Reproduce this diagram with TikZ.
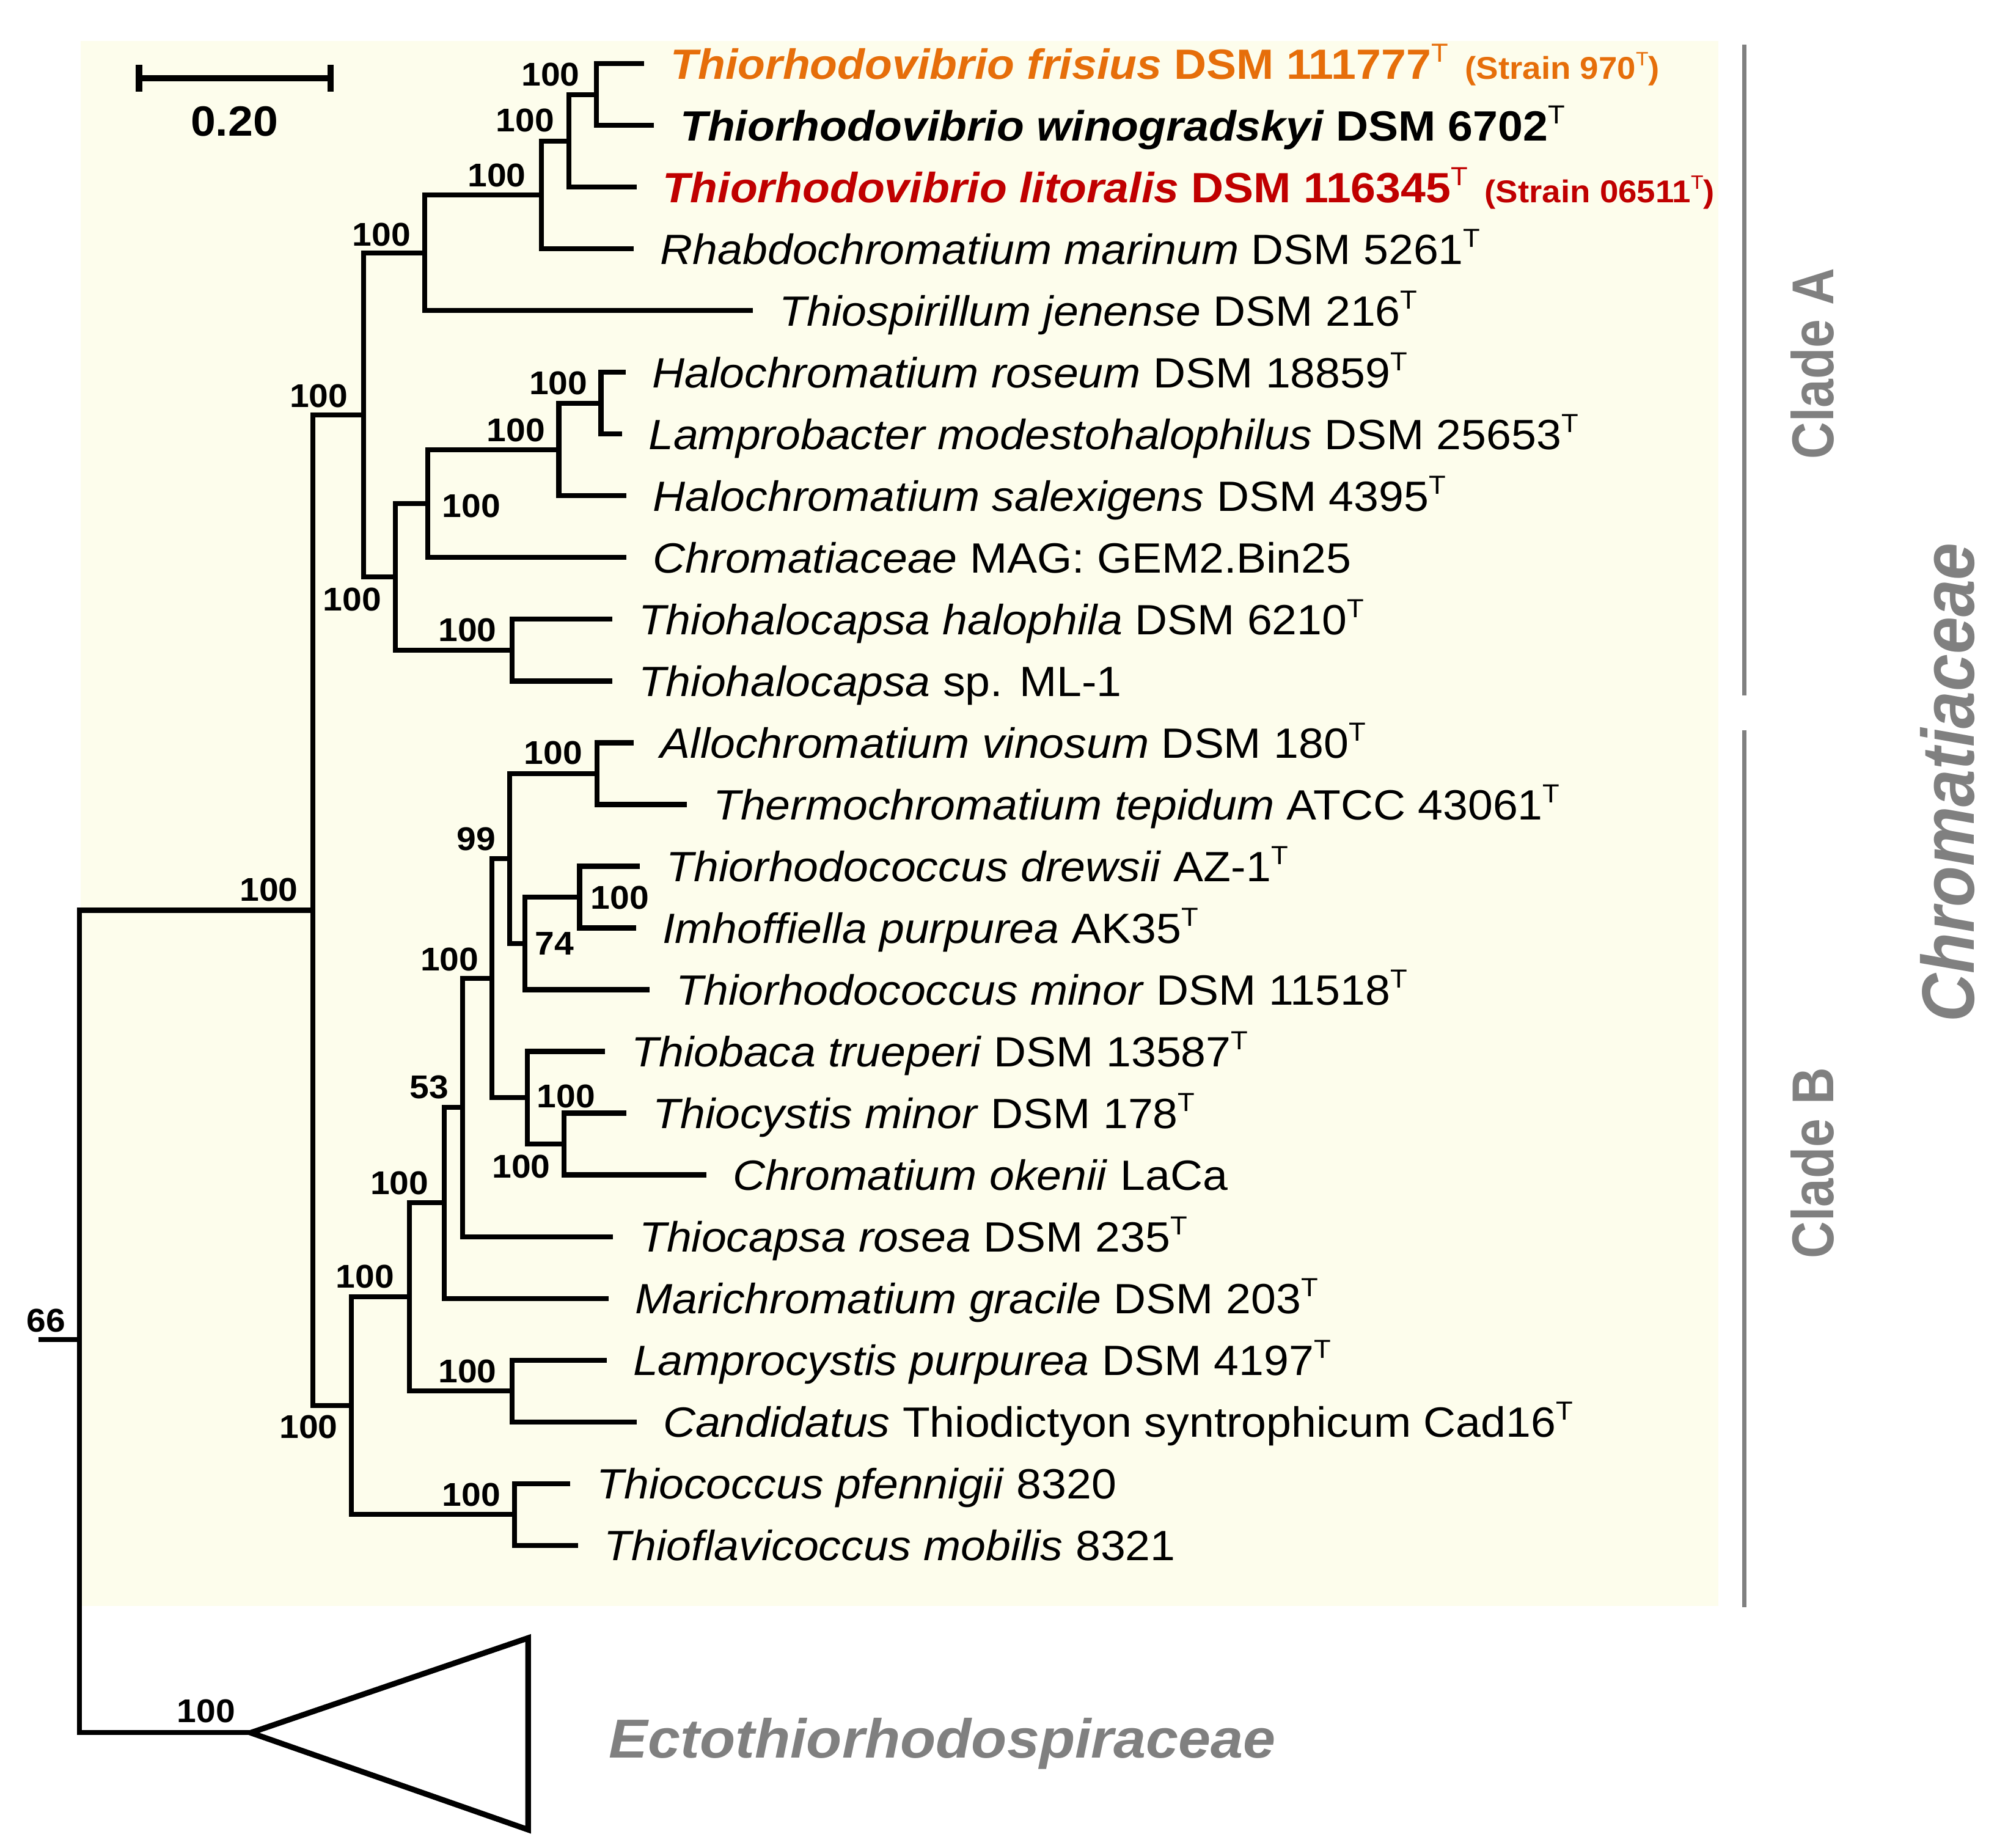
\documentclass[tikz,border=0pt]{standalone}
\usepackage{fontspec}
\setmainfont{Liberation Sans}[FakeStretch=1.06]
\newfontfamily\plainsans{Liberation Sans}
\usetikzlibrary{calc}
\definecolor{orng}{RGB}{230,110,10}
\definecolor{dred}{RGB}{192,0,0}
\definecolor{gry}{RGB}{128,128,128}
\definecolor{panelc}{RGB}{253,253,236}
\newcommand\supT{\raisebox{0.40em}{\fontsize{5.8pt}{5.8pt}\selectfont\mdseries\upshape T}}
\newcommand\strain[1]{\hspace{0.4em}{\bfseries\upshape\fontsize{7pt}{7.5pt}\selectfont(Strain #1\raisebox{0.42em}{\fontsize{4.3pt}{4.3pt}\selectfont\mdseries T})}}
\begin{document}
\begin{tikzpicture}[x=0.01cm,y=-0.01cm,
  br/.style={line width=1.1pt, line join=miter, black},
  leaf/.style={anchor=base west, inner sep=0pt, font=\fontsize{9.4pt}{11pt}\selectfont},
  bs/.style={inner sep=0pt, font=\bfseries\fontsize{7.3pt}{8pt}\selectfont},
  cladebar/.style={gry, line width=1pt},
  cladelab/.style={rotate=90, inner sep=0pt, text=gry, font=\plainsans\bfseries\fontsize{13.1pt}{14pt}\selectfont}]
\useasboundingbox (0,0) rectangle (1568,1443);
\fill[fill=panelc] (63,32) rectangle (1342,1254);
% leaf tips
\coordinate (L1) at (503,49.8);
\coordinate (L2) at (510.5,98.0);
\coordinate (L3) at (497,146.2);
\coordinate (L4) at (495,194.4);
\coordinate (L5) at (588,242.6);
\coordinate (L6) at (488.6,290.8);
\coordinate (L7) at (485.7,339.0);
\coordinate (L8) at (489.3,387.2);
\coordinate (L9) at (489.3,435.4);
\coordinate (L10) at (478,483.6);
\coordinate (L11) at (478,531.8);
\coordinate (L12) at (495,580.0);
\coordinate (L13) at (536.3,628.2);
\coordinate (L14) at (499.8,676.4);
\coordinate (L15) at (496.7,724.6);
\coordinate (L16) at (507.4,772.8);
\coordinate (L17) at (472.4,821.0);
\coordinate (L18) at (489.1,869.2);
\coordinate (L19) at (551.5,917.4);
\coordinate (L20) at (478.5,965.6);
\coordinate (L21) at (475.3,1013.8);
\coordinate (L22) at (473.7,1062.0);
\coordinate (L23) at (497.1,1110.2);
\coordinate (L24) at (445.2,1158.4);
\coordinate (L25) at (451.2,1206.6);
% internal nodes
\coordinate (n1) at (465.6,73.9);
\coordinate (n2) at (444.4,110.05);
\coordinate (n3) at (422.9,152.2);
\coordinate (n4) at (331.6,197.4);
\coordinate (n7) at (469.3,314.9);
\coordinate (n6) at (436.4,351.05);
\coordinate (n5) at (334.1,393.2);
\coordinate (nT) at (400,507.7);
\coordinate (nH) at (308.6,450.45);
\coordinate (nA) at (284.1,323.9);
\coordinate (nAl) at (466.3,604.1);
\coordinate (nIm) at (452.6,700.5);
\coordinate (n74) at (410,736.65);
\coordinate (n99) at (397.8,670.4);
\coordinate (nTc) at (440.4,893.3);
\coordinate (nTb) at (411.6,857.15);
\coordinate (na) at (384.1,763.8);
\coordinate (nb) at (361.3,864.7);
\coordinate (n53) at (346.7,939.25);
\coordinate (nLc) at (400,1086.1);
\coordinate (nc) at (319.7,1012.7);
\coordinate (nTcc) at (401.7,1182.5);
\coordinate (nd) at (274.5,1097.6);
\coordinate (nChr) at (244.4,710.75);
\coordinate (root) at (61.9,1046);
\coordinate (s66) at (30,1046);
\coordinate (apex) at (195.8,1353);
\coordinate (triT) at (412.4,1279);
\coordinate (triB) at (412.4,1428.7);
% branches
\draw[br] (L1) -| (n1) |- (L2);
\draw[br] (n1) -| (n2) |- (L3);
\draw[br] (n2) -| (n3) |- (L4);
\draw[br] (n3) -| (n4) |- (L5);
\draw[br] (L6) -| (n7) |- (L7);
\draw[br] (n7) -| (n6) |- (L8);
\draw[br] (n6) -| (n5) |- (L9);
\draw[br] (L10) -| (nT) |- (L11);
\draw[br] (n5) -| (nH) |- (nT);
\draw[br] (n4) -| (nA) |- (nH);
\draw[br] (L12) -| (nAl) |- (L13);
\draw[br] (L14) -| (nIm) |- (L15);
\draw[br] (nIm) -| (n74) |- (L16);
\draw[br] (nAl) -| (n99) |- (n74);
\draw[br] (L18) -| (nTc) |- (L19);
\draw[br] (L17) -| (nTb) |- (nTc);
\draw[br] (n99) -| (na) |- (nTb);
\draw[br] (na) -| (nb) |- (L20);
\draw[br] (nb) -| (n53) |- (L21);
\draw[br] (L22) -| (nLc) |- (L23);
\draw[br] (n53) -| (nc) |- (nLc);
\draw[br] (L24) -| (nTcc) |- (L25);
\draw[br] (nc) -| (nd) |- (nTcc);
\draw[br] (nA) -| (nChr) |- (nd);
\draw[br] (nChr) -| (root) |- (apex);
\draw[br] (s66) -- (root);
\draw[line width=1.25pt, line join=miter] (apex) -- (triT) -- (triB) -- cycle;
% scale bar
\coordinate (sbL) at (108.5,61);
\coordinate (sbR) at (258.2,61);
\coordinate (sbLt) at (108.5,50.8);
\coordinate (sbLb) at (108.5,71.5);
\coordinate (sbRt) at (258.2,50.8);
\coordinate (sbRb) at (258.2,71.5);
\draw[line width=1.4pt] (sbL) -- (sbR);
\draw[line width=1.4pt] (sbLt) -- (sbLb);
\draw[line width=1.4pt] (sbRt) -- (sbRb);
\node[inner sep=0pt, font=\bfseries\fontsize{9.4pt}{11pt}\selectfont] (sblab) at (183,94.6) {0.20};
% leaf labels
\node[leaf, text=orng] (t1) at ($(L1)+(20,11.8)$) {\bfseries\itshape Thiorhodovibrio frisius \upshape DSM 111777\supT\strain{970}};
\node[leaf] (t2) at ($(L2)+(20,11.8)$) {\bfseries\itshape Thiorhodovibrio winogradskyi \upshape DSM 6702\supT};
\node[leaf, text=dred] (t3) at ($(L3)+(20,11.8)$) {\bfseries\itshape Thiorhodovibrio litoralis \upshape DSM 116345\supT\strain{06511}};
\node[leaf] (t4) at ($(L4)+(20,11.8)$) {\textit{Rhabdochromatium marinum} DSM 5261\supT};
\node[leaf] (t5) at ($(L5)+(20,11.8)$) {\textit{Thiospirillum jenense} DSM 216\supT};
\node[leaf] (t6) at ($(L6)+(20,11.8)$) {\textit{Halochromatium roseum} DSM 18859\supT};
\node[leaf] (t7) at ($(L7)+(20,11.8)$) {\textit{Lamprobacter modestohalophilus} DSM 25653\supT};
\node[leaf] (t8) at ($(L8)+(20,11.8)$) {\textit{Halochromatium salexigens} DSM 4395\supT};
\node[leaf] (t9) at ($(L9)+(20,11.8)$) {\textit{Chromatiaceae} MAG: GEM2.Bin25};
\node[leaf] (t10) at ($(L10)+(20,11.8)$) {\textit{Thiohalocapsa halophila} DSM 6210\supT};
\node[leaf] (t11) at ($(L11)+(20,11.8)$) {\textit{Thiohalocapsa} sp. ML-1};
\node[leaf] (t12) at ($(L12)+(20,11.8)$) {\textit{Allochromatium vinosum} DSM 180\supT};
\node[leaf] (t13) at ($(L13)+(20,11.8)$) {\textit{Thermochromatium tepidum} ATCC 43061\supT};
\node[leaf] (t14) at ($(L14)+(20,11.8)$) {\textit{Thiorhodococcus drewsii} AZ-1\supT};
\node[leaf] (t15) at ($(L15)+(20,11.8)$) {\textit{Imhoffiella purpurea} AK35\supT};
\node[leaf] (t16) at ($(L16)+(20,11.8)$) {\textit{Thiorhodococcus minor} DSM 11518\supT};
\node[leaf] (t17) at ($(L17)+(20,11.8)$) {\textit{Thiobaca trueperi} DSM 13587\supT};
\node[leaf] (t18) at ($(L18)+(20,11.8)$) {\textit{Thiocystis minor} DSM 178\supT};
\node[leaf] (t19) at ($(L19)+(20,11.8)$) {\textit{Chromatium okenii} LaCa};
\node[leaf] (t20) at ($(L20)+(20,11.8)$) {\textit{Thiocapsa rosea} DSM 235\supT};
\node[leaf] (t21) at ($(L21)+(20,11.8)$) {\textit{Marichromatium gracile} DSM 203\supT};
\node[leaf] (t22) at ($(L22)+(20,11.8)$) {\textit{Lamprocystis purpurea} DSM 4197\supT};
\node[leaf] (t23) at ($(L23)+(20,11.8)$) {\textit{Candidatus} Thiodictyon syntrophicum Cad16\supT};
\node[leaf] (t24) at ($(L24)+(20,11.8)$) {\textit{Thiococcus pfennigii} 8320};
\node[leaf] (t25) at ($(L25)+(20,11.8)$) {\textit{Thioflavicoccus mobilis} 8321};
% bootstrap values
\node[bs] (b1) at (430,58) {100};
\node[bs] (b2) at (410,94) {100};
\node[bs] (b3) at (388,137) {100};
\node[bs] (b4) at (298,183) {100};
\node[bs] (b5) at (249,309) {100};
\node[bs] (b6) at (436,299) {100};
\node[bs] (b7) at (403,336) {100};
\node[bs] (b8) at (368,395) {100};
\node[bs] (b9) at (275,468) {100};
\node[bs] (b10) at (365,492) {100};
\node[bs] (b11) at (210,695) {100};
\node[bs] (b12) at (432,588) {100};
\node[bs] (b13) at (372,655) {99};
\node[bs] (b14) at (484,701) {100};
\node[bs] (b15) at (433,737) {74};
\node[bs] (b16) at (351,749) {100};
\node[bs] (b17) at (335,849) {53};
\node[bs] (b18) at (442,856) {100};
\node[bs] (b19) at (407,911) {100};
\node[bs] (b20) at (312,924) {100};
\node[bs] (b21) at (285,997) {100};
\node[bs] (b22) at (365,1071) {100};
\node[bs] (b23) at (241,1114) {100};
\node[bs] (b24) at (368,1167) {100};
\node[bs] (b25) at (36,1031) {66};
\node[bs] (b26) at (161,1336) {100};
% clade bars and labels
\coordinate (cAt) at (1362,35);
\coordinate (cAb) at (1362,543);
\coordinate (cBt) at (1362,570);
\coordinate (cBb) at (1362,1255);
\draw[cladebar] (cAt) -- (cAb);
\draw[cladebar] (cBt) -- (cBb);
\node[cladelab] (cA) at (1415.5,284) {\scalebox{0.87}[1]{Clade A}};
\node[cladelab] (cB) at (1415.5,908) {\scalebox{0.87}[1]{Clade B}};
\node[rotate=90, inner sep=0pt, text=gry, font=\plainsans\bfseries\itshape\fontsize{16.5pt}{18pt}\selectfont] (chr) at (1521,611) {\scalebox{0.9}[1]{Chromatiaceae}};
\node[anchor=base west, inner sep=0pt, text=gry, font=\bfseries\itshape\fontsize{12.2pt}{14pt}\selectfont] (ecto) at (475,1372.8) {Ectothiorhodospiraceae};
\end{tikzpicture}
\end{document}
